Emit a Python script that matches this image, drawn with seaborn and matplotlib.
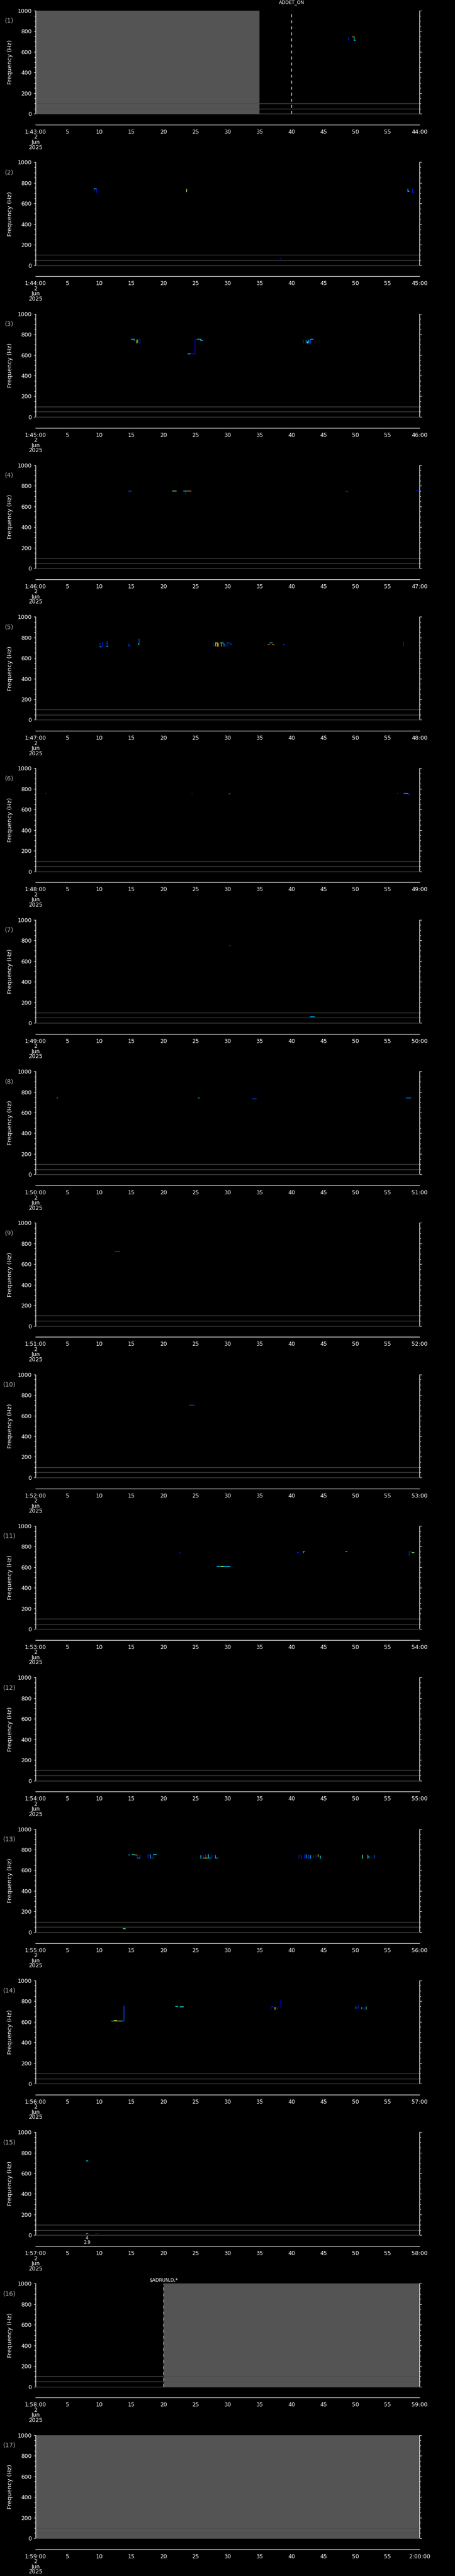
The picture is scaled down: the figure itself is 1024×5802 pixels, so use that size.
import numpy as np
import pandas as pd
import matplotlib
matplotlib.use("Agg")
import matplotlib.pyplot as plt
import seaborn as sns
from matplotlib.ticker import MultipleLocator, FixedLocator

# ---------------- data ----------------
n_panels = 17
start_hour = 1
start_minute = 43
date_lines = ["2", "Jun", "2025"]
freq_ticks = [0, 200, 400, 600, 800, 1000]
ref_lines_hz = [50, 100]

# no-data (gray) intervals, seconds within the panel minute
gap_panel = [1, 16, 17]
gap_start = [0, 20, 0]
gap_end = [35, 60, 60]

# event markers
event_panel = [1, 16]
event_t = [40, 20]
event_label = ["ADDET_ON", "$ADRUN,D,*"]

# small annotation
note_panel = [15]
note_t = [8.05]
note_text = ["4\n2.9"]

# vertical spectrogram strokes (one line per panel): panel, time (s), f from, f to (Hz), level (0-1)
vs_panel = [1, 1,
            2, 2, 2, 2, 2,
            3, 3, 3, 3, 3, 3, 3, 3, 3, 3, 3,
            4, 4,
            5, 5, 5, 5, 5, 5, 5, 5, 5, 5, 5, 5, 5, 5, 5, 5,
            6,
            11, 11, 11,
            13, 13, 13, 13, 13, 13, 13, 13, 13, 13, 13, 13, 13, 13, 13, 13, 13, 13, 13, 13, 13, 13, 13, 13, 13,
            14, 14, 14, 14, 14, 14, 14, 14, 14, 14]
vs_t = [48.9, 49.8,
        9.5, 9.2, 23.6, 58.2, 58.9,
        15.4, 15.8, 16.0, 16.3, 24.9, 25.8, 41.9, 42.3, 42.5, 42.7, 43.0,
        14.7, 23.5,
        10.1, 10.5, 11.2, 14.6, 14.8, 16.2, 16.1, 27.8, 28.1, 28.4, 28.6, 29.0, 29.4, 29.6, 29.9, 57.5,
        58.2,
        22.6, 41.9, 58.4,
        15.9, 16.3, 17.6, 18.0, 18.4, 25.8, 26.2, 26.6, 27.0, 27.6, 28.1, 41.2, 41.6, 42.0, 42.3, 42.7, 43.0, 43.4, 43.8, 44.2, 44.5, 51.1, 51.9, 52.1, 53.0,
        13.8, 36.8, 37.4, 37.8, 38.3, 50.1, 50.4, 51.0, 51.3, 51.7]
vs_f0 = [742, 745,
         745, 740, 740, 740, 742,
         752, 745, 748, 758, 748, 752, 745, 740, 730, 745, 748,
         750, 750,
         745, 755, 760, 735, 720, 786, 740, 740, 745, 748, 745, 748, 745, 740, 748, 760,
         757,
         746, 748, 749,
         750, 748, 748, 748, 748, 745, 752, 752, 752, 752, 745, 752, 748, 752, 752, 748, 745, 745, 748, 752, 740, 748, 748, 740, 748,
         752, 730, 740, 740, 810, 745, 758, 742, 740, 745]
vs_f1 = [715, 712,
         705, 730, 712, 715, 705,
         740, 712, 718, 705, 610, 740, 715, 715, 715, 712, 715,
         738, 718,
         712, 708, 715, 715, 708, 730, 728, 712, 715, 712, 712, 712, 712, 712, 715, 712,
         747,
         733, 738, 708,
         717, 717, 717, 717, 717, 712, 718, 718, 718, 718, 718, 712, 715, 712, 720, 715, 712, 715, 718, 730, 712, 712, 715, 718, 712,
         609, 718, 720, 718, 738, 728, 730, 722, 712, 720]
vs_lvl = [0.15, 0.35,
          0.15, 0.25, 0.55, 0.35, 0.15,
          0.3, 0.65, 0.3, 0.15, 0.12, 0.35, 0.15, 0.3, 0.55, 0.35, 0.2,
          0.15, 0.15,
          0.15, 0.15, 0.2, 0.2, 0.15, 0.2, 0.5, 0.15, 0.35, 0.65, 0.8, 0.35, 0.9, 0.3, 0.15, 0.15,
          0.15,
          0.15, 0.3, 0.15,
          0.15, 0.2, 0.15, 0.3, 0.15, 0.35, 0.15, 0.2, 0.35, 0.15, 0.3, 0.15, 0.15, 0.15, 0.35, 0.2, 0.3, 0.15, 0.15, 0.6, 0.35, 0.45, 0.3, 0.35, 0.2,
          0.2, 0.15, 0.6, 0.15, 0.12, 0.3, 0.15, 0.3, 0.15, 0.4]

# horizontal strokes (one line per panel): panel, time from, time to (s), frequency (Hz), level
hs_panel = [1, 1, 1,
            2, 2, 2, 2,
            3, 3, 3, 3, 3, 3, 3,
            4, 4, 4, 4, 4, 4,
            5, 5, 5, 5, 5, 5, 5, 5, 5, 5,
            6, 6, 6, 6, 6, 6,
            7, 7,
            8, 8, 8, 8,
            9,
            10,
            11, 11, 11, 11, 11, 11, 11, 11,
            13, 13, 13, 13, 13, 13, 13, 13, 13, 13, 13, 13, 13,
            14, 14, 14, 14, 14, 14,
            15, 15, 15]
hs_t0 = [48.9, 49.5, 49.8,
         9.2, 58.2, 58.9, 38.2,
         14.9, 23.8, 23.8, 24.9, 25.3, 25.8, 43.0,
         14.5, 21.4, 23.1, 23.7, 48.5, 59.5,
         10.1, 11.1, 28.1, 28.9, 29.9, 30.4, 36.3, 36.6, 37.0, 38.7,
         1.5, 24.4, 30.2, 56.5, 57.6, 58.2,
         30.2, 42.9,
         3.3, 25.4, 33.8, 57.9,
         12.4,
         24.0,
         28.3, 29.0, 29.9, 40.9, 41.8, 48.5, 58.4, 58.8,
         14.5, 15.1, 15.4, 15.9, 17.6, 18.0, 18.4, 26.2, 27.0, 28.1, 13.7, 14.0, 26.6,
         11.9, 12.3, 13.0, 21.9, 22.6, 36.8,
         7.9, 7.9, 9.4]
hs_t1 = [49.2, 49.8, 50.0,
         9.5, 58.4, 59.1, 38.4,
         15.4, 24.9, 24.2, 25.3, 25.8, 26.1, 43.4,
         15.0, 22.0, 23.6, 24.3, 48.8, 59.9,
         10.3, 11.3, 28.4, 29.4, 30.4, 30.6, 36.6, 37.0, 37.3, 38.9,
         1.7, 24.6, 30.4, 56.7, 58.2, 58.5,
         30.5, 43.6,
         3.5, 25.6, 34.5, 58.7,
         13.2,
         24.8,
         30.4, 29.4, 30.4, 41.2, 42.1, 48.7, 58.8, 59.2,
         14.7, 15.4, 15.9, 16.3, 18.0, 18.4, 18.9, 26.6, 27.4, 28.5, 14.0, 14.2, 26.9,
         13.7, 12.7, 13.3, 22.2, 23.1, 37.2,
         8.2, 8.2, 9.7]
hs_f = [715, 745, 712,
        745, 715, 705, 62,
        752, 610, 612, 748, 752, 740, 752,
        750, 750, 750, 750, 745, 752,
        708, 712, 748, 748, 748, 735, 730, 745, 728, 728,
        755, 752, 752, 757, 757, 747,
        751, 60,
        740, 740, 735, 740,
        720,
        700,
        607, 607, 605, 742, 748, 748, 749, 740,
        748, 752, 748, 720, 748, 717, 752, 718, 718, 718, 35, 28, 718,
        609, 610, 607, 748, 745, 745,
        720, 14, 14]
hs_lvl = [0.12, 0.75, 0.3,
          0.3, 0.3, 0.15, 0.15,
          0.35, 0.15, 0.35, 0.15, 0.35, 0.3, 0.35,
          0.2, 0.5, 0.35, 0.75, 0.15, 0.15,
          0.35, 0.35, 0.6, 0.4, 0.2, 0.2, 0.8, 0.35, 0.75, 0.2,
          0.15, 0.15, 0.3, 0.15, 0.3, 0.15,
          0.15, 0.3,
          0.3, 0.3, 0.2, 0.25,
          0.2,
          0.2,
          0.35, 0.65, 0.15, 0.15, 0.35, 0.4, 0.15, 0.5,
          0.35, 0.35, 0.75, 0.3, 0.2, 0.2, 0.35, 0.7, 0.3, 0.35, 0.5, 0.15, 0.65,
          0.35, 0.65, 0.75, 0.35, 0.4, 0.15,
          0.35, 0.8, 0.12]

# ---------------- build stroke table ----------------
rows = []
sid = 0
for p, t, a, b, l in zip(vs_panel, vs_t, vs_f0, vs_f1, vs_lvl):
    rows += [(p, sid, t, a, l), (p, sid, t, b, l)]
    sid += 1
for p, a, b, f, l in zip(hs_panel, hs_t0, hs_t1, hs_f, hs_lvl):
    rows += [(p, sid, a, f, l), (p, sid, b, f, l)]
    sid += 1
strokes = pd.DataFrame(rows, columns=["panel", "seg", "t", "f", "lvl"])

# ---------------- style ----------------
sns.set_theme(style="dark", rc={"axes.facecolor": "black", "figure.facecolor": "black",
                                "savefig.facecolor": "black", "text.color": "white",
                                "xtick.color": "white", "ytick.color": "white"})
plt.rcParams["font.family"] = ["DejaVu Sans"]
plt.rcParams["lines.scale_dashes"] = False
JET = matplotlib.colormaps["jet"]

W, H = 1024, 5802
DPI = 100
fig = plt.figure(figsize=(W / DPI, H / DPI), dpi=DPI, facecolor="black")
slot = H / n_panels
LEFT, RIGHT = 80, 944
TOPR, BOTR, AXR = 24, 256.3, 281
GRAY_FILL = "#545454"
GRAY_LINE = "#4a4a4a"
px = 72 / DPI  # points per pixel

event_dy = {1: 18, 16: 8}

for i in range(n_panels):
    pnum = i + 1
    top = TOPR + i * slot
    bot = BOTR + i * slot
    ax = fig.add_axes([LEFT / W, 1 - bot / H, (RIGHT - LEFT) / W, (bot - top) / H])
    ax.set_facecolor("black")

    # gray no-data regions
    for gp, g0, g1 in zip(gap_panel, gap_start, gap_end):
        if gp == pnum:
            ax.axvspan(g0, g1, color=GRAY_FILL, lw=0, zorder=0)

    # reference lines
    for rl in ref_lines_hz:
        ax.axhline(rl, color=GRAY_LINE, lw=1.4 * px, zorder=1)

    # spectrogram strokes
    sub = strokes[strokes["panel"] == pnum]
    if len(sub):
        sns.lineplot(data=sub, x="t", y="f", units="seg", estimator=None, sort=False,
                     hue="lvl", palette=JET, hue_norm=(0, 1), legend=False,
                     lw=1.5 * px, ax=ax, zorder=3)

    # events
    for ep, et, el in zip(event_panel, event_t, event_label):
        if ep == pnum:
            ax.axvline(et, color="white", lw=1.3 * px, ls=(0, (4.8, 5.0)), zorder=4)
            ax.annotate(el, xy=(et, 1.0), xycoords=("data", "axes fraction"),
                        xytext=(0, event_dy[pnum] * px), textcoords="offset points",
                        ha="center", va="center", color="white", fontsize=7.5,
                        annotation_clip=False)

    for npn, nt, ntx in zip(note_panel, note_t, note_text):
        if npn == pnum:
            ax.annotate(ntx, xy=(nt, 0.0), xycoords=("data", "axes fraction"),
                        xytext=(0, -2 * px), textcoords="offset points", ha="center",
                        va="top", color="white", fontsize=7, linespacing=0.9,
                        annotation_clip=False)

    ax.set_xlim(0, 60)
    ax.set_ylim(0, 1000)
    ax.set_xlabel("")
    ax.set_ylabel("")
    ax.set_xticks([])
    ax.yaxis.set_major_locator(FixedLocator(freq_ticks))
    ax.yaxis.set_minor_locator(MultipleLocator(50))
    ax.set_yticklabels([str(v) for v in freq_ticks])
    ax.tick_params(axis="y", which="both", direction="out", left=True, right=True,
                   labelleft=True, labelright=False, colors="white", width=1.0 * px)
    ax.tick_params(axis="y", which="major", length=4.5 * px, pad=4 * px, labelsize=9)
    ax.tick_params(axis="y", which="minor", length=2.7 * px)
    ax.grid(False)
    for s in ["left", "right"]:
        ax.spines[s].set_visible(True)
        ax.spines[s].set_color("white")
        ax.spines[s].set_linewidth(1.3 * px)
    ax.spines["top"].set_visible(False)
    ax.spines["bottom"].set_visible(True)
    ax.spines["bottom"].set_color(GRAY_LINE)
    ax.spines["bottom"].set_linewidth(1.4 * px)

    # separate time axis below
    axt = fig.add_axes([LEFT / W, 1 - (AXR + i * slot) / H, (RIGHT - LEFT) / W, 0.2 / H])
    axt.set_facecolor("none")
    axt.patch.set_alpha(0)
    axt.set_xlim(0, 60)
    axt.set_yticks([])
    axt.grid(False)
    for s in ["left", "right", "top"]:
        axt.spines[s].set_visible(False)
    axt.spines["bottom"].set_visible(True)
    axt.spines["bottom"].set_color("white")
    axt.spines["bottom"].set_linewidth(1.3 * px)
    axt.xaxis.set_major_locator(FixedLocator(list(range(0, 61, 5))))
    axt.xaxis.set_minor_locator(MultipleLocator(1))
    minute = start_minute + i
    hh = start_hour + minute // 60
    mm = minute % 60
    nminute = minute + 1
    nh = start_hour + nminute // 60
    nm = nminute % 60
    first = f"{hh}:{mm:02d}:00\n" + "\n".join(date_lines)
    last = f"{nh}:00:00" if nm == 0 else f"{nm:02d}:00"
    labels = [first] + [str(v) for v in range(5, 60, 5)] + [last]
    axt.set_xticklabels(labels)
    axt.tick_params(axis="x", which="both", direction="out", colors="white", width=1.0 * px)
    axt.tick_params(axis="x", which="major", length=5 * px, pad=5 * px, labelsize=9)
    axt.tick_params(axis="x", which="minor", length=2.8 * px)
    for lab in axt.get_xticklabels():
        lab.set_linespacing(0.85)

    # panel number and y-label
    fig.text(21 / W, 1 - (47 + i * slot) / H, f"({pnum})", color="#b0b0b0",
             fontsize=10, ha="center", va="center")
    fig.text(23 / W, 1 - ((TOPR + BOTR) / 2 + i * slot) / H, "Frequency (Hz)",
             rotation=90, color="white", fontsize=9.5, ha="center", va="center")

fig.savefig("out.png", dpi=DPI, facecolor="black")
